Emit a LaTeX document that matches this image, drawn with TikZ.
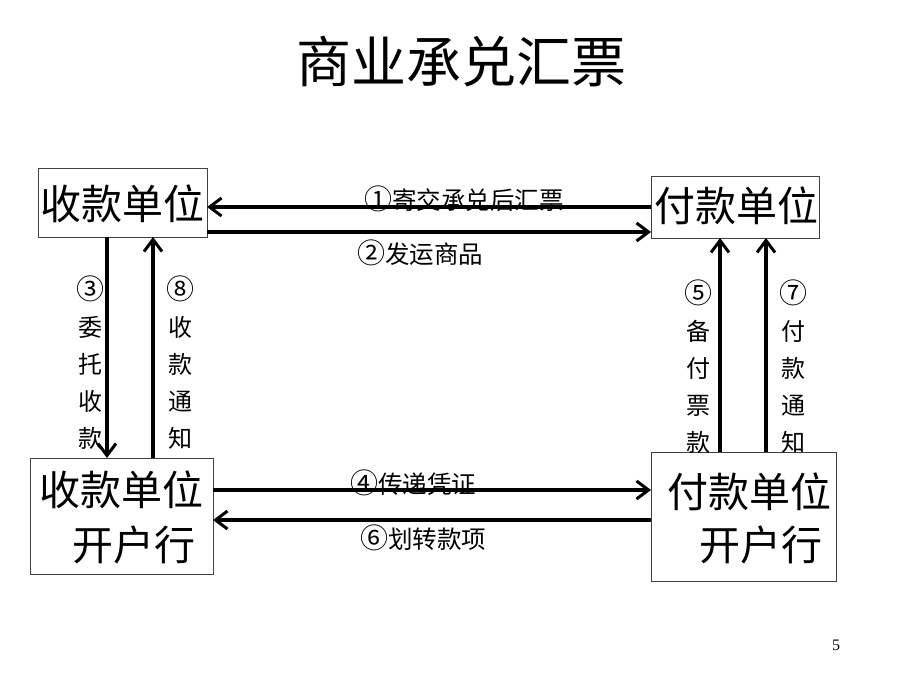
\documentclass[tikz,border=0pt]{standalone}
\usepackage{fontspec}
\setmainfont{Liberation Serif}
\newfontfamily\cjk{Noto Sans CJK SC}
\newcommand{\cdg}[1]{{\fontsize{28}{28}\selectfont #1}}
\usetikzlibrary{arrows.meta}
\begin{document}
\begin{tikzpicture}[x=1pt,y=-1pt,
  box/.style={draw=black!75,line width=0.8pt,fill=none},
  big/.style={font=\cjk\fontsize{41}{41}\selectfont,inner sep=0pt,anchor=center},
  lab/.style={font=\cjk\fontsize{24.5}{24.5}\selectfont,inner sep=0pt,anchor=center},
  vlab/.style={font=\cjk\fontsize{24}{37}\selectfont,inner sep=0pt,align=center,anchor=north},
  arr/.style={line width=3.5pt,-{Straight Barb[length=12pt,width=18pt,line width=3pt]}}]
\useasboundingbox (0,0) rectangle (920,690);
% title
\node[font=\cjk\fontsize{55}{55}\selectfont,inner sep=0pt] (title) at (461,62) {商业承兑汇票};
% boxes
\draw[box] (38,168) rectangle (207,237);
\node[big] (ta) at (122,204) {收款单位};
\draw[box] (651,176) rectangle (819,238);
\node[big] (tb) at (736,206) {付款单位};
\draw[box] (30,458) rectangle (213,574);
\node[big] (tc1) at (121,490) {收款单位};
\node[big] (tc2) at (134,545) {开户行};
\draw[box] (651,452) rectangle (836,581);
\node[big] (td1) at (749,492) {付款单位};
\node[big] (td2) at (761,545) {开户行};
% named connector ends
\coordinate (a1) at (207,207); \coordinate (b1) at (651,207);
\coordinate (a2) at (207,232); \coordinate (b2) at (651,232);
\coordinate (a3) at (107,237); \coordinate (c3) at (107,458);
\coordinate (a8) at (153,237); \coordinate (c8) at (153,458);
\coordinate (b5) at (720,238); \coordinate (d5) at (720,452);
\coordinate (b7) at (766,238); \coordinate (d7) at (766,452);
\coordinate (c4) at (213,490); \coordinate (d4) at (651,490);
\coordinate (c6) at (213,520); \coordinate (d6) at (651,520);
% arrows
\draw[arr] (b1) -- (a1);
\draw[arr] (a2) -- (b2);
\draw[arr] (a3) -- (c3);
\draw[arr] (c8) -- (a8);
\draw[arr] (d5) -- (b5);
\draw[arr] (d7) -- (b7);
\draw[arr] (c4) -- (d4);
\draw[arr] (d6) -- (c6);
% labels
\node[lab] (l1) at (464,199) {\cdg{①}寄交承兑后汇票};
\node[lab] (l2) at (420,253) {\cdg{②}发运商品};
\node[lab] (l4) at (413,483) {\cdg{④}传递凭证};
\node[lab] (l6) at (423,538) {\cdg{⑥}划转款项};
\node[vlab] (l3) at (90,276) {\cdg{③}\\委\\托\\收\\款};
\node[vlab] (l8) at (180,276) {\cdg{⑧}\\收\\款\\通\\知};
\node[vlab] (l5) at (698,280) {\cdg{⑤}\\备\\付\\票\\款};
\node[vlab] (l7) at (793,280) {\cdg{⑦}\\付\\款\\通\\知};
% page number
\node[font=\fontsize{16}{16}\selectfont,inner sep=0pt] (pg) at (836,645) {5};
\end{tikzpicture}
\end{document}
